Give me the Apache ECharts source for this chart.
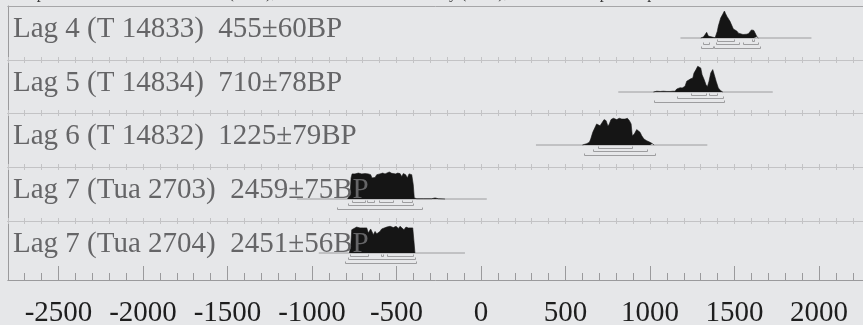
<!DOCTYPE html>
<html>
<head>
<meta charset="utf-8">
<script src="https://cdn.jsdelivr.net/npm/echarts@6/dist/echarts.min.js"></script>
<style>
  html, body { margin: 0; padding: 0; background: #e6e7e9; }
  #chart { width: 863px; height: 325px; }
</style>
</head>
<body>
<div id="chart"></div>
<script>
// Calibrated radiocarbon dates, calendar years (negative = BC, positive = AD)
const headerText = 'Atmospheric data from Reimer et al (2004);OxCal v3.10 Bronk Ramsey (2005); cub r:5 sd:12 prob usp[chron]';

const sampleLabels = [
  'Lag 4 (T 14833)  455\u00b160BP',
  'Lag 5 (T 14834)  710\u00b178BP',
  'Lag 6 (T 14832)  1225\u00b179BP',
  'Lag 7 (Tua 2703)  2459\u00b175BP',
  'Lag 7 (Tua 2704)  2451\u00b156BP'
];

const tickLabels = [-2500, -2000, -1500, -1000, -500, 0, 500, 1000, 1500, 2000];

// relative probability density [year, p]
const lag4Prob = [[1300,0],[1316,0.04],[1325,0.10],[1335,0.21],[1345,0.07],[1355,0.01],[1385,0.01],[1391,0.05],[1398,0.25],[1404,0.44],[1418,0.74],[1430,0.88],[1440,1.0],[1447,0.90],[1455,0.80],[1463,0.74],[1473,0.62],[1483,0.55],[1493,0.33],[1503,0.28],[1513,0.26],[1523,0.18],[1533,0.14],[1550,0.13],[1570,0.14],[1582,0.16],[1592,0.22],[1600,0.30],[1608,0.36],[1614,0.28],[1621,0.19],[1632,0.05],[1641,0]];
const lag5Prob = [[1020,0],[1026,0.01],[1040,0.03],[1060,0.02],[1079,0.03],[1100,0.02],[1118,0.02],[1135,0.03],[1148,0.03],[1158,0.11],[1168,0.13],[1178,0.16],[1190,0.15],[1197,0.14],[1207,0.21],[1217,0.40],[1227,0.46],[1241,0.49],[1253,0.52],[1260,0.70],[1272,0.83],[1282,0.95],[1290,1.0],[1300,0.89],[1308,0.64],[1320,0.46],[1331,0.27],[1339,0.19],[1349,0.40],[1359,0.70],[1371,0.83],[1380,0.64],[1391,0.40],[1404,0.15],[1418,0.05],[1430,0]];
const lag6Prob = [[600,0],[605,0.01],[625,0.05],[641,0.10],[649,0.22],[661,0.47],[675,0.66],[684,0.78],[694,0.84],[704,0.71],[714,0.81],[728,0.94],[740,0.90],[751,0.69],[759,0.78],[769,0.94],[783,0.99],[803,0.94],[818,0.99],[833,0.96],[852,0.96],[866,0.99],[878,0.90],[888,0.78],[895,0.34],[907,0.41],[921,0.57],[931,0.59],[941,0.47],[951,0.34],[964,0.22],[980,0.16],[1000,0.10],[1014,0.05],[1024,0]];
const lag7aProb = [[-790,0],[-785,0.02],[-775,0.16],[-769,0.78],[-763,0.93],[-746,0.93],[-726,0.96],[-706,0.93],[-696,0.90],[-686,0.94],[-667,0.93],[-653,0.90],[-645,0.78],[-637,0.71],[-627,0.80],[-617,0.90],[-598,0.93],[-582,0.96],[-568,0.93],[-558,0.96],[-543,1.0],[-528,0.95],[-519,0.96],[-505,0.93],[-493,0.96],[-479,0.94],[-469,0.83],[-460,0.94],[-446,0.90],[-436,0.78],[-426,0.93],[-410,0.90],[-401,0.53],[-395,0.04],[-380,0.01],[-341,0.01],[-292,0.01],[-272,0.04],[-262,0.06],[-253,0.01],[-213,0]];
const lag7bProb = [[-779,0],[-771,0.25],[-765,0.86],[-756,0.93],[-736,0.96],[-716,0.93],[-696,0.93],[-686,0.86],[-676,0.93],[-667,0.74],[-661,0.80],[-653,0.89],[-645,0.84],[-637,0.68],[-627,0.80],[-617,0.71],[-608,0.64],[-598,0.80],[-588,0.89],[-578,0.93],[-558,0.96],[-538,0.99],[-519,0.94],[-503,0.99],[-489,0.91],[-479,0.99],[-469,0.93],[-456,0.86],[-444,0.96],[-430,0.93],[-420,0.96],[-404,0.93],[-396,0.37],[-391,0]];

// confidence ranges [from, to, level] (level 0 = 68.2%, 1 = 95.4%, 2 = 99.7%)
const lag4Ranges = [[1395,1499,0],[1602,1617,0],[1315,1351,1],[1391,1528,1],[1552,1641,1],[1300,1371,2],[1380,1651,2]];
const lag5Ranges = [[1241,1331,0],[1351,1395,0],[1158,1430,1],[1025,1440,2]];
const lag6Ranges = [[691,892,0],[661,984,1],[611,1030,2]];
const lag7aRanges = [[-765,-686,0],[-676,-633,0],[-602,-519,0],[-469,-410,0],[-785,-401,1],[-850,-351,2]];
const lag7bRanges = [[-775,-667,0],[-593,-582,0],[-558,-404,0],[-785,-391,1],[-805,-385,2]];

// extent of the calibration line drawn under each distribution
const lag4Span = [1180, 1955];
const lag5Span = [812, 1726];
const lag6Span = [325, 1339];
const lag7aSpan = [-1089, 34];
const lag7bSpan = [-960, -95];

const rows = [
  { prob: lag4Prob, ranges: lag4Ranges, span: lag4Span },
  { prob: lag5Prob, ranges: lag5Ranges, span: lag5Span },
  { prob: lag6Prob, ranges: lag6Ranges, span: lag6Span },
  { prob: lag7aProb, ranges: lag7aRanges, span: lag7aSpan },
  { prob: lag7bProb, ranges: lag7bRanges, span: lag7bSpan }
];

// ---- layout ----
const X_MIN = -2800, X_MAX = 2260;
const ROW_TOP = [6, 60, 113, 167, 221];
const ROW_H = [54, 53, 54, 54, 59];
const BASE = 32;       // px from row top to distribution baseline
const UNIT = 27;       // px per unit of relative probability
const BRACKET_GAP = 2.5, BRACKET_STEP = 3.5;
const SEP_COLOR = '#c3c3c5';
const AXIS_COLOR = '#9a9a9c';
const SERIF = '"Liberation Serif", "Times New Roman", serif';

const hundreds = [];
for (let v = X_MIN; v <= X_MAX; v += 100) hundreds.push(v);

const grids = [], xAxes = [], yAxes = [], series = [];

rows.forEach((row, i) => {
  grids.push({ left: 7.8, right: 0, top: ROW_TOP[i], height: ROW_H[i], outerBoundsMode: 'none', containLabel: false });
  yAxes.push({
    gridIndex: i, type: 'value', min: -(ROW_H[i] - BASE) / UNIT, max: BASE / UNIT,
    axisLine: { show: true, onZero: false, lineStyle: { color: AXIS_COLOR, width: 1 } },
    axisTick: { show: false }, axisLabel: { show: false }, splitLine: { show: false }
  });
  // top edge of the row
  xAxes.push({
    gridIndex: i, type: 'value', position: 'top', min: X_MIN, max: X_MAX,
    axisLine: { show: true, onZero: false, lineStyle: { color: i === 0 ? '#a6a6a8' : SEP_COLOR, width: 1 } },
    axisTick: { show: i > 0, inside: true, length: 3, customValues: hundreds, lineStyle: { color: SEP_COLOR } },
    axisLabel: { show: false }, splitLine: { show: false }
  });
  const last = i === rows.length - 1;
  const bottomIndex = xAxes.length;
  xAxes.push({
    gridIndex: i, type: 'value', position: 'bottom', min: X_MIN, max: X_MAX,
    axisLine: { show: true, onZero: false, lineStyle: { color: last ? AXIS_COLOR : SEP_COLOR, width: 1 } },
    axisTick: { show: true, inside: true, length: last ? 7 : 3, customValues: hundreds,
                lineStyle: { color: last ? AXIS_COLOR : SEP_COLOR } },
    axisLabel: { show: false }, splitLine: { show: false }
  });
  if (last) {
    xAxes.push({
      gridIndex: i, type: 'value', position: 'bottom', min: X_MIN, max: X_MAX,
      axisLine: { show: false, onZero: false },
      axisTick: { show: true, inside: true, length: 14, customValues: tickLabels, lineStyle: { color: AXIS_COLOR } },
      axisLabel: { show: true, customValues: tickLabels, margin: 19, fontSize: 29, fontFamily: SERIF,
                   color: '#1e1e1e', formatter: v => String(v) },
      splitLine: { show: false }
    });
  }

  series.push({
    type: 'line', xAxisIndex: bottomIndex, yAxisIndex: i, silent: true, z: 1,
    symbol: 'none', data: [[row.span[0], 0], [row.span[1], 0]],
    lineStyle: { color: '#9c9c9e', width: 1 }
  });
  series.push({
    type: 'line', xAxisIndex: bottomIndex, yAxisIndex: i, silent: true, z: 3,
    symbol: 'none', data: row.prob,
    lineStyle: { color: '#151515', width: 0.6 },
    areaStyle: { color: '#151515', opacity: 1 }
  });
  series.push({
    type: 'custom', xAxisIndex: bottomIndex, yAxisIndex: i, silent: true, z: 2,
    data: row.ranges,
    encode: { x: [0, 1] },
    renderItem: (params, api) => {
      const a = api.coord([api.value(0), 0]);
      const b = api.coord([api.value(1), 0]);
      const y = Math.round(a[1] + BRACKET_GAP + api.value(2) * BRACKET_STEP) + 0.5;
      const x0 = Math.round(a[0]) + 0.5, x1 = Math.round(b[0]) + 0.5;
      return {
        type: 'polyline',
        shape: { points: [[x0, y - 2], [x0, y], [x1, y], [x1, y - 2]] },
        style: { stroke: '#9d9d9f', lineWidth: 1, fill: null }
      };
    }
  });
});

const graphics = sampleLabels.map((text, i) => ({
  type: 'text', x: 13, y: ROW_TOP[i] + 33 - 9.8, z: 100, silent: true,
  style: { text: text, font: '29px ' + SERIF, fill: '#656567',
           verticalAlign: 'middle', textVerticalAlign: 'middle' }
}));
graphics.push({
  type: 'text', x: -6, y: -6.2, z: 100, silent: true,
  style: { text: headerText, font: '16px ' + SERIF, fill: '#3a3a3a',
           verticalAlign: 'middle', textVerticalAlign: 'middle' }
});

const chart = echarts.init(document.getElementById('chart'), null, { renderer: 'canvas' });
chart.setOption({
  backgroundColor: '#e6e7e9',
  animation: false,
  grid: grids,
  xAxis: xAxes,
  yAxis: yAxes,
  series: series,
  graphic: graphics
});
</script>
</body>
</html>
